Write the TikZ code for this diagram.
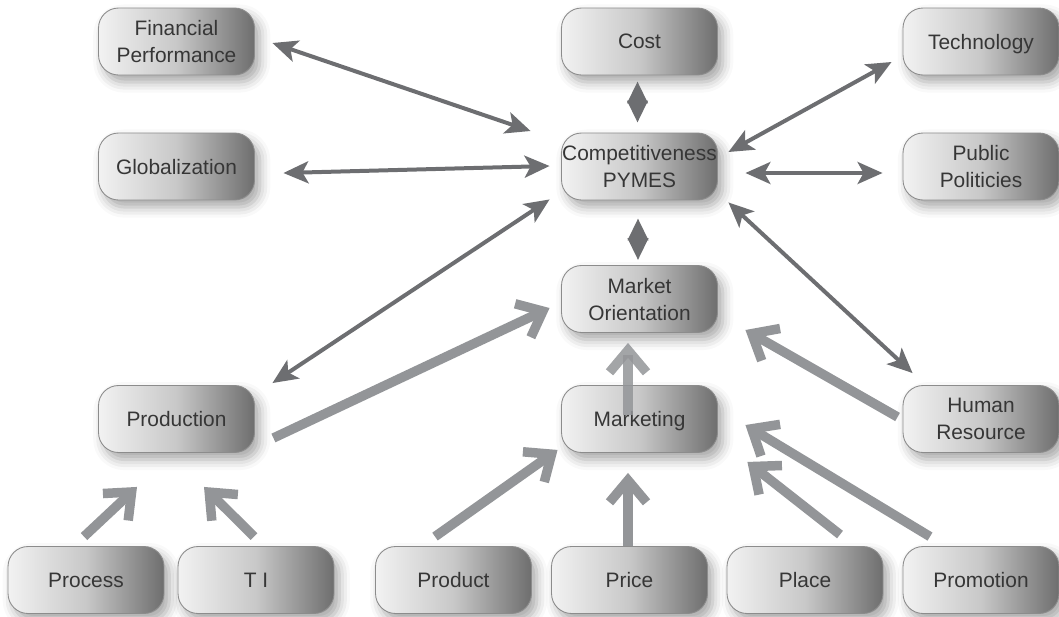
\documentclass[tikz,border=0pt]{standalone}
\usepackage{fontspec}
\setmainfont{Liberation Sans}
\usetikzlibrary{calc,arrows.meta,shadows.blur}

\definecolor{linkgray}{HTML}{6D6E71}
\definecolor{pushgray}{HTML}{939598}
\definecolor{boxlight}{HTML}{F2F2F2}
\definecolor{boxmid}{HTML}{C8C8C8}
\definecolor{boxdark}{HTML}{6E6E6E}
\definecolor{boxedge}{HTML}{8C8C8C}
\definecolor{boxtext}{HTML}{363636}

\begin{document}
\begin{tikzpicture}[x=0.02cm, y=-0.02cm,
    factor/.style={draw=boxedge, line width=0.5pt, rounded corners=0.4cm,
        left color=boxlight, right color=boxdark, middle color=boxmid,
        minimum width=3.12cm, minimum height=1.34cm, inner sep=0pt, text depth=0pt,
        align=center, text=boxtext, font=\fontsize{11.9}{15.4}\selectfont,
        blur shadow={shadow xshift=3pt, shadow yshift=-4pt, shadow blur radius=6pt, shadow opacity=35}},
    link/.style={draw=linkgray, line width=0.08cm,
        arrows={Stealth[length=0.5cm, width=0.44cm, inset=0.12cm]-Stealth[length=0.5cm, width=0.44cm, inset=0.12cm]}},
    shortlink/.style={draw=linkgray, line width=0.08cm,
        arrows={Stealth[length=0.44cm, width=0.4cm, inset=0cm]-Stealth[length=0.44cm, width=0.4cm, inset=0cm]}},
    push/.style={draw=pushgray, line width=0.19cm,
        arrows={-Straight Barb[length=0.44cm, width=0.74cm, sharp]}}]

    \useasboundingbox (0,0) rectangle (1059,616);

    % Top row
    \node[factor] at (176.5,41.5) (finance) {Financial\\Performance};
    \node[factor] at (639.5,41.5) (cost) {Cost};
    \node[factor] at (981,41.5) (technology) {Technology};

    % Competitiveness row
    \node[factor] at (176.5,166.5) (global) {Globalization};
    \node[factor] at (639.5,166.5) (compet) {Competitiveness\\PYMES};
    \node[factor] at (981,166.5) (public) {Public\\Politicies};

    \node[factor] at (639.5,299) (market) {Market\\Orientation};

    % Middle row
    \node[factor] at (176.5,419) (production) {Production};
    \node[factor] at (639.5,419) (marketing) {Marketing};
    \node[factor] at (981,419) (human) {Human\\Resource};

    % Bottom row
    \node[factor] at (86,580) (process) {Process};
    \node[factor] at (256,580) (ti) {T I};
    \node[factor] at (453.5,580) (product) {Product};
    \node[factor] at (629.5,580) (price) {Price};
    \node[factor] at (805,580) (place) {Place};
    \node[factor] at (981,580) (promotion) {Promotion};

    % Links with competitiveness
    \draw[link] ($(finance.east)+(17.5,1.5)$) -- ($(compet.west)+(-30.5,-35.5)$);
    \draw[shortlink] ($(cost.south)+(-2,6)$) -- ($(compet.north)+(-2,-10)$);
    \draw[link] ($(technology.west)+(-11,20.5)$) -- ($(compet.east)+(10.5,-14.5)$);
    \draw[link] ($(global.east)+(28.5,6.5)$) -- ($(compet.west)+(-11.5,-0.5)$);
    \draw[link] ($(compet.east)+(27.5,6.5)$) -- ($(public.west)+(-20,6.5)$);
    \draw[shortlink] ($(compet.south)+(-1.5,18)$) -- ($(market.north)+(-1.5,-5)$);
    \draw[link] ($(compet.south west)+(-11.5,-1)$) -- ($(production.north east)+(17.5,-2)$);
    \draw[link] ($(compet.south east)+(10.5,2)$) -- ($(human.north west)+(10,-12)$);

    % Into market orientation
    \draw[push] ($(production.east)+(18.5,19)$) -- ($(market.west)+(-11.5,9)$);
    \draw[push, opacity=0.85] ($(marketing.north)+(-11.5,30)$) -- ($(market.south)+(-11.5,10)$);
    \draw[push] ($(human.west)+(-5,-2)$) -- ($(market.east)+(27.5,31)$);

    % Into production
    \draw[push] ($(process.north)+(-2,-9.5)$) -- ($(production.south)+(-39.5,34)$);
    \draw[push] ($(ti.north)+(-2,-9.5)$) -- ($(production.south)+(27.5,34)$);

    % Into marketing
    \draw[push] ($(product.north)+(-18.5,-9.5)$) -- ($(marketing.south west)+(-3.5,-3)$);
    \draw[push] ($(price.north)+(-1.5,0)$) -- ($(marketing.south)+(-11.5,20)$);
    \draw[push] ($(place.north)+(35,-11.5)$) -- ($(marketing.south east)+(29.5,9)$);
    \draw[push] ($(promotion.north)+(-51,-9.5)$) -- ($(marketing.east)+(27.5,6)$);
\end{tikzpicture}
\end{document}
